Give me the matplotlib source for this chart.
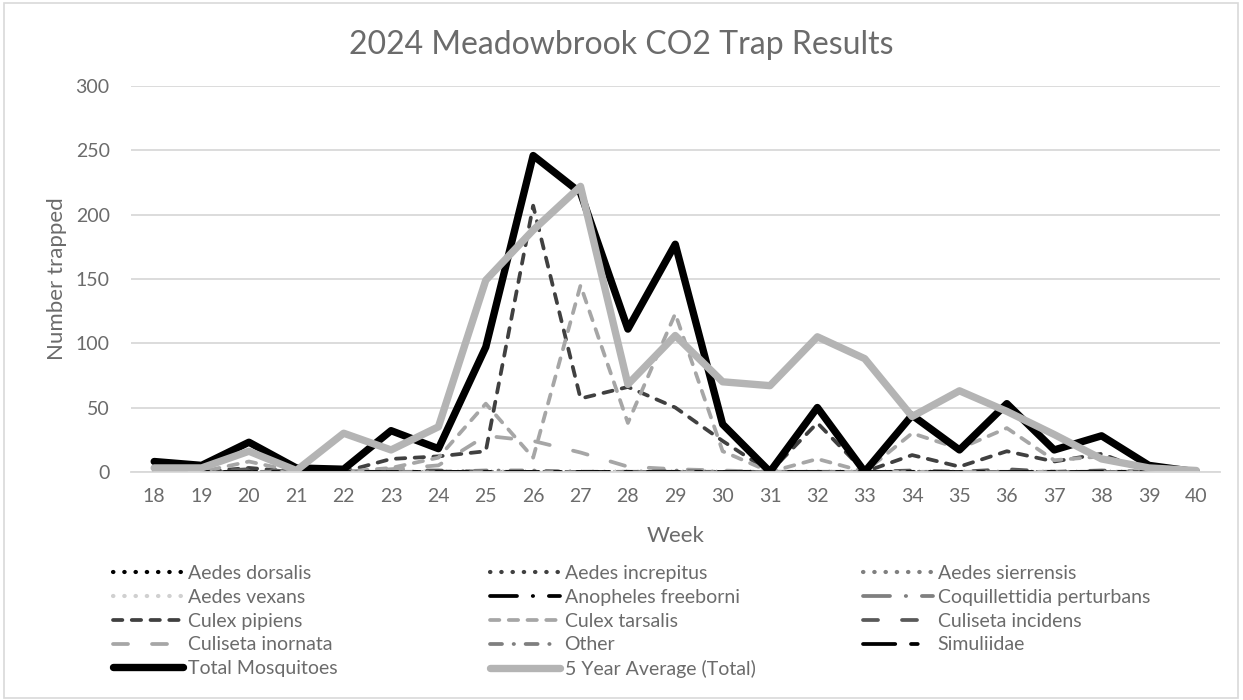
import numpy as np
import matplotlib
matplotlib.use("Agg")
from matplotlib import pyplot as plt
from matplotlib.lines import Line2D
from matplotlib.patches import Rectangle

plt.rcParams['font.family'] = ['Lato', 'DejaVu Sans']

weeks = list(range(18, 41))

aedes_dorsalis = [0] * 23
aedes_increpitus = [0] * 23
aedes_sierrensis = [0] * 23
aedes_vexans = [0] * 23
anopheles_freeborni = [0] * 23
coquillettidia = [0] * 23
culex_pipiens = [0, 0, 3, 0, 0, 10, 12, 16, 207, 57, 66, 50, 24, 0, 38, 0, 13, 4, 16, 8, 14, 0, 0]
culex_tarsalis = [0, 0, 8, 0, 0, 3, 11, 53, 11, 145, 38, 123, 16, 0, 10, 0, 30, 18, 34, 9, 12, 2, 0]
culiseta_incidens = [0, 0, 2, 0, 0, 1, 1, 0, 0, 0, 0, 0, 0, 0, 0, 0, 1, 0, 2, 0, 1, 0, 0]
culiseta_inornata = [0, 0, 0, 0, 0, 2, 5, 28, 24, 15, 4, 2, 1, 0, 0, 0, 0, 0, 0, 0, 0, 0, 0]
other = [0, 0, 0, 0, 0, 0, 0, 1, 1, 0, 0, 1, 0, 0, 0, 0, 0, 0, 0, 0, 0, 0, 0]
simuliidae = [0] * 23
total = [8, 5, 23, 3, 2, 32, 18, 97, 246, 217, 111, 177, 37, 0, 50, 0, 44, 17, 53, 17, 28, 5, 0]
avg5 = [3, 3, 16, 1, 30, 17, 35, 149, 188, 222, 68, 106, 70, 67, 105, 88, 43, 63, 47, 29, 10, 3, 1]

names = ['Aedes dorsalis', 'Aedes increpitus', 'Aedes sierrensis', 'Aedes vexans',
         'Anopheles freeborni', 'Coquillettidia perturbans', 'Culex pipiens', 'Culex tarsalis',
         'Culiseta incidens', 'Culiseta inornata', 'Other', 'Simuliidae',
         'Total Mosquitoes', '5 Year Average (Total)']
series = [aedes_dorsalis, aedes_increpitus, aedes_sierrensis, aedes_vexans,
          anopheles_freeborni, coquillettidia, culex_pipiens, culex_tarsalis,
          culiseta_incidens, culiseta_inornata, other, simuliidae, total, avg5]

dot = (0, (0.1, 2.6))
short = (0, (2.5, 2.5))
longd = (0, (4.0, 6.4))
dashdot_long = (0, (7.2, 4.2, 0.1, 4.2))
dashdot = (0, (3.2, 3.1, 0.1, 3.1))
longshort = (0, (8.6, 4.2, 1.8, 4.2))
styles = [
    dict(color='black', ls=dot, lw=3.0),
    dict(color='#404040', ls=dot, lw=3.0),
    dict(color='#7f7f7f', ls=dot, lw=3.0),
    dict(color='#d0d0d0', ls=dot, lw=3.0),
    dict(color='black', ls=dashdot_long, lw=2.7),
    dict(color='#7f7f7f', ls=dashdot_long, lw=2.7),
    dict(color='#404040', ls=short, lw=2.7),
    dict(color='#a6a6a6', ls=short, lw=2.7),
    dict(color='#595959', ls=longd, lw=2.7),
    dict(color='#a6a6a6', ls=longd, lw=2.7),
    dict(color='#7f7f7f', ls=dashdot, lw=2.7),
    dict(color='black', ls=longshort, lw=2.7),
    dict(color='black', ls='-', lw=5.3, solid_capstyle='round'),
    dict(color='#b4b4b4', ls='-', lw=5.3, solid_capstyle='round'),
]
for st in styles[:12]:
    st['dash_capstyle'] = 'round'

fig = plt.figure(figsize=(12.43, 7), dpi=100)
fig.patches.append(Rectangle((0.003, 0.003), 0.993, 0.993, transform=fig.transFigure,
                             fill=False, ec='#d9d9d9', lw=1.2))
ax = fig.add_axes([0.105, 0.326, 0.8765, 0.551])

for vals, st in zip(series, styles):
    ax.plot(weeks, vals, **st)

ax.set_xlim(17.5, 40.5)
ax.set_ylim(0, 300)
ax.set_yticks(range(0, 301, 50))
ax.set_xticks(weeks)
ax.grid(axis='y', color='#d9d9d9', lw=1.3)
ax.set_axisbelow(True)
for s in ['top', 'right', 'left']:
    ax.spines[s].set_visible(False)
ax.spines['bottom'].set_color('#d9d9d9')
ax.spines['bottom'].set_linewidth(1.3)
ax.tick_params(length=0, labelsize=14, labelcolor='#6b6b6b')
ax.tick_params(axis='x', pad=12)
ax.tick_params(axis='y', pad=15)
ax.set_xlabel('Week', fontsize=16, color='#6b6b6b', labelpad=15)
ax.set_ylabel('Number trapped', fontsize=16, color='#6b6b6b', labelpad=6)

fig.text(0.5, 0.935, '2024 Meadowbrook CO2 Trap Results', ha='center', va='center',
         fontsize=23, color='#6b6b6b')

handles = [Line2D([], [], **st) for st in styles]
cols = [[0, 3, 6, 9, 12], [1, 4, 7, 10, 13], [2, 5, 8, 11]]
xs = [0.091, 0.394, 0.694]
for c, x0 in zip(cols, xs):
    leg = fig.legend([handles[i] for i in c], [names[i] for i in c], loc='upper left',
                     bbox_to_anchor=(x0, 0.193), frameon=False, fontsize=14,
                     handlelength=3.6, handletextpad=0.25, labelspacing=0.35,
                     borderpad=0, borderaxespad=0)
    for t in leg.get_texts():
        t.set_color('#6b6b6b')

fig.savefig('out.png', dpi=100)
